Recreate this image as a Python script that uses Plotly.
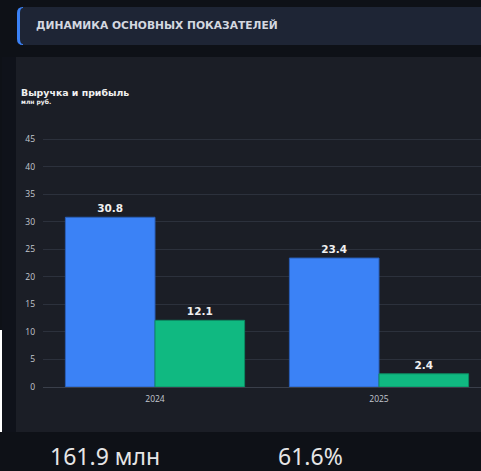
import plotly.graph_objects as go

W, H = 481, 471

years = ["2024", "2025"]
revenue = [30.8, 23.4]
profit = [12.1, 2.4]
y_ticks = [0, 5, 10, 15, 20, 25, 30, 35, 40, 45]
header_text = "ДИНАМИКА ОСНОВНЫХ ПОКАЗАТЕЛЕЙ"
chart_title = "Выручка и прибыль"
chart_subtitle = "млн руб."
kpi_texts = ["161.9 млн", "61.6%"]

BG = "#0e1117"
PANEL = "#1b1e26"
HEADER = "#1e2535"
BLUE = "#3b82f6"
GREEN = "#10b981"


def px(x):
    return x / W


def py(y):
    return 1 - y / H


bar_font = dict(family="DejaVu Sans", size=10.5, color="#f0f0f0", weight="bold")
tick_font = dict(family="Open Sans", size=8.5, color="#c4c8d0")

fig = go.Figure()
fig.add_trace(go.Bar(
    x=years, y=revenue, name="Выручка",
    marker=dict(color=BLUE, line=dict(color="#2a5fb8", width=1)),
    text=[f"{v:.1f}" for v in revenue], textposition="outside",
    textfont=bar_font, cliponaxis=False, hoverinfo="skip",
))
fig.add_trace(go.Bar(
    x=years, y=profit, name="Прибыль",
    marker=dict(color=GREEN, line=dict(color="#0c8a62", width=1)),
    text=[f"{v:.1f}" for v in profit], textposition="outside",
    textfont=bar_font, cliponaxis=False, hoverinfo="skip",
))

# plot area in pixels: x 43 -> 481 (cropped), y 122.5 -> 387
x0_px, x1_px = 43, 481
cat_w = 224.0
x_hi = -0.5 + (x1_px - x0_px) / cat_w
y_top_px, y_bot_px = 122.5, 387
y_max = 48

shapes = [
    dict(type="rect", xref="paper", yref="paper", x0=px(2), x1=px(16), y0=py(432), y1=py(57),
         fillcolor="#0f121a", line=dict(width=0), layer="below"),
    dict(type="rect", xref="paper", yref="paper", x0=0, x1=px(2), y0=py(432), y1=py(330),
         fillcolor="#ffffff", line=dict(width=0), layer="below"),
    dict(type="rect", xref="paper", yref="paper", x0=px(16), x1=1, y0=py(432), y1=py(57),
         fillcolor=PANEL, line=dict(width=0), layer="below"),
    dict(type="path", xref="paper", yref="paper",
         path=f"M {px(23)},{py(7)} L 1,{py(7)} L 1,{py(45)} L {px(23)},{py(45)} "
              f"Q {px(17)},{py(45)} {px(17)},{py(39)} L {px(17)},{py(13)} Q {px(17)},{py(7)} {px(23)},{py(7)} Z",
         fillcolor=HEADER, line=dict(width=0), layer="below"),
    dict(type="path", xref="paper", yref="paper",
         path=f"M {px(23)},{py(7)} Q {px(17)},{py(7)} {px(17)},{py(13)} L {px(17)},{py(39)} "
              f"Q {px(17)},{py(45)} {px(23)},{py(45)} L {px(23)},{py(44)} Q {px(20)},{py(44)} {px(20)},{py(39)} "
              f"L {px(20)},{py(13)} Q {px(20)},{py(8)} {px(23)},{py(8)} Z",
         fillcolor=BLUE, line=dict(width=0), layer="below"),
]

annotations = [
    dict(text=f"<b>{header_text}</b>", xref="paper", yref="paper", x=px(34), y=py(26),
         xanchor="left", yanchor="middle", showarrow=False,
         font=dict(family="DejaVu Sans", size=10.7, color="#d4d8e0")),
    dict(text=f"<b>{chart_title}</b>", xref="paper", yref="paper", x=px(19), y=py(93),
         xanchor="left", yanchor="middle", showarrow=False,
         font=dict(family="DejaVu Sans", size=9.4, color="#f0f0f0")),
    dict(text=f"<b>{chart_subtitle}</b>", xref="paper", yref="paper", x=px(19), y=py(101.5),
         xanchor="left", yanchor="middle", showarrow=False,
         font=dict(family="DejaVu Sans", size=6, color="#f0f0f0")),
    dict(text=kpi_texts[0], xref="paper", yref="paper", x=px(48), y=py(456),
         xanchor="left", yanchor="middle", showarrow=False,
         font=dict(family="Noto Sans", size=23, color="#e6e6e6")),
    dict(text=kpi_texts[1], xref="paper", yref="paper", x=px(276), y=py(456),
         xanchor="left", yanchor="middle", showarrow=False,
         font=dict(family="Noto Sans", size=23, color="#e6e6e6")),
]

fig.update_layout(
    width=W, height=H, autosize=False,
    margin=dict(l=0, r=0, t=0, b=0, pad=0, autoexpand=False),
    paper_bgcolor=BG, plot_bgcolor="rgba(0,0,0,0)",
    barmode="group", bargap=0.2, bargroupgap=0,
    showlegend=False,
    shapes=shapes, annotations=annotations,
    xaxis=dict(domain=[px(x0_px), 1], range=[-0.5, x_hi], type="category",
               showgrid=False, zeroline=False, showline=False, automargin=False,
               tickfont=tick_font, ticks="", ticklabelstandoff=5),
    yaxis=dict(domain=[py(y_bot_px), py(y_top_px)], range=[0, y_max], automargin=False,
               tickvals=y_ticks, showgrid=True, gridcolor="#2c313c", gridwidth=1,
               zeroline=True, zerolinecolor="#3a3f4a", zerolinewidth=1, showline=False,
               tickfont=tick_font, ticks="", ticklabelstandoff=7),
)

fig.write_html(
    "out.html",
    config={"displayModeBar": False, "responsive": False},
    post_script="document.body.style.margin='0';document.body.style.background='#0e1117';"
                "document.body.style.overflow='hidden';",
)
